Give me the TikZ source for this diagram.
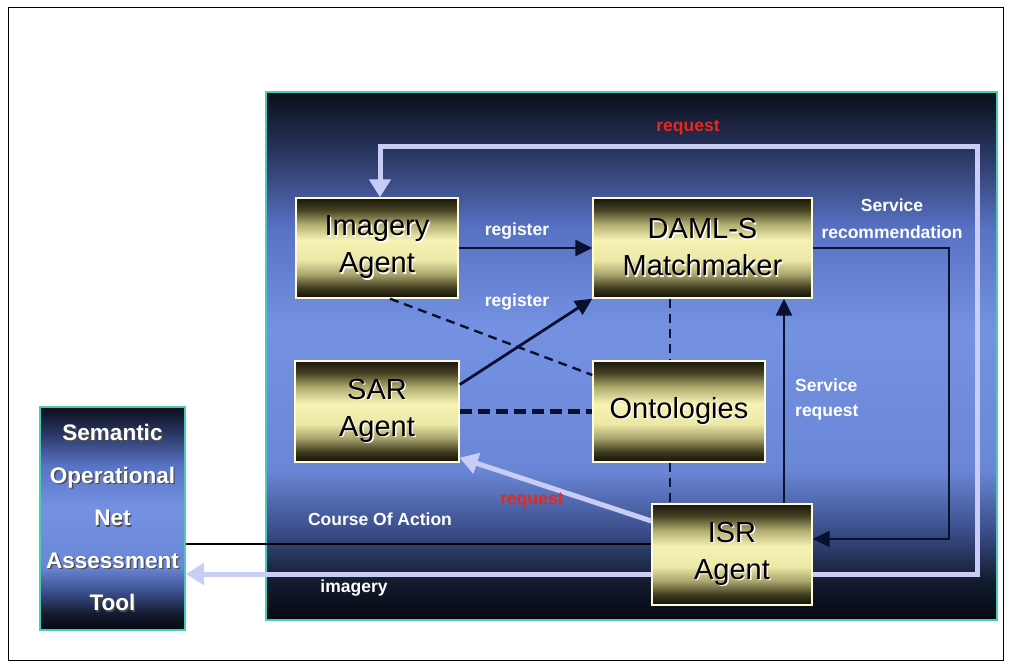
\documentclass[tikz,border=0pt]{standalone}
\usepackage{fontspec}
\setmainfont{Liberation Sans}
\usetikzlibrary{arrows.meta}

\definecolor{lav}{HTML}{C9CCF4}
\definecolor{reqred}{HTML}{E8281A}
\definecolor{navy}{HTML}{0A1030}
\definecolor{teal}{HTML}{48CCB4}

% blue panel: dark at top and bottom, bright periwinkle in between
\pgfdeclareverticalshading{panelshade}{100bp}{%
  color(0bp)=({rgb,255:red,5;green,8;blue,15}); color(25bp)=({rgb,255:red,5;green,8;blue,15});
  color(28.8bp)=({rgb,255:red,20;green,28;blue,48});
  color(33.5bp)=({rgb,255:red,58;green,78;blue,138});
  color(39.2bp)=({rgb,255:red,106;green,134;blue,214});
  color(52.5bp)=({rgb,255:red,117;green,146;blue,226});
  color(62bp)=({rgb,255:red,88;green,114;blue,196});
  color(69.5bp)=({rgb,255:red,40;green,52;blue,94});
  color(75bp)=({rgb,255:red,10;green,14;blue,26});
  color(100bp)=({rgb,255:red,10;green,14;blue,26})}

% golden agent boxes: dark rims, pale yellow band
\pgfdeclareverticalshading{goldshade}{100bp}{%
  color(0bp)=({rgb,255:red,18;green,16;blue,6}); color(25bp)=({rgb,255:red,18;green,16;blue,6});
  color(30bp)=({rgb,255:red,62;green,58;blue,30});
  color(37bp)=({rgb,255:red,170;green,166;blue,110});
  color(44bp)=({rgb,255:red,236;green,232;blue,166});
  color(54bp)=({rgb,255:red,246;green,242;blue,180});
  color(62bp)=({rgb,255:red,176;green,172;blue,112});
  color(69bp)=({rgb,255:red,70;green,66;blue,34});
  color(75bp)=({rgb,255:red,26;green,22;blue,10});
  color(100bp)=({rgb,255:red,26;green,22;blue,10})}

\newcommand\shtext[2]{\makebox[0pt][l]{\kern1.3pt\raisebox{-1.3pt}{\textcolor{#1}{#2}}}#2}

\tikzset{
  agentbox/.style={draw=white!85!yellow, line width=1.4pt, shading=goldshade,
    align=center, inner sep=0pt, font=\fontsize{29}{37}\selectfont, text=black},
  panelbox/.style={draw=teal, line width=1.8pt, shading=panelshade},
  lbl/.style={text=white, font=\bfseries\fontsize{17.5}{26}\selectfont, inner sep=0pt},
  redlbl/.style={text=reqred, font=\bfseries\fontsize{17.5}{22}\selectfont, inner sep=0pt},
  blkarrow/.style={draw=navy, line width=2.8pt, -{Triangle[length=17pt,width=16pt]}},
  lavlink/.style={draw=lav, line width=5pt},
  lavarrow/.style={draw=lav, line width=5pt, -{Triangle[length=18pt,width=21pt]}},
  dashlink/.style={draw=navy, line width=2.4pt, dash pattern=on 9pt off 6pt},
  thickdash/.style={draw=navy, line width=4.5pt, dash pattern=on 12pt off 6pt},
}

\begin{document}
\begin{tikzpicture}[x=1pt,y=-1pt]
\useasboundingbox (0,0) rectangle (1010,666);
\fill[white] (0,0) rectangle (1010,666);
\draw[black, line width=1pt] (8,8) rectangle (1003,660);

% panels
\path[panelbox] (266,92) rectangle (997,620);
\node[panelbox, minimum width=145pt, minimum height=223pt, inner sep=0pt,
      align=center, text=white, font=\bfseries\fontsize{22.5}{42.5}\selectfont] (tool) at (112.5,518.5)
  {\shtext{black!70}{Semantic}\\\shtext{black!70}{Operational}\\\shtext{black!70}{Net}\\\shtext{black!70}{Assessment}\\\shtext{black!70}{Tool}};

% agent boxes
\node[agentbox, minimum width=162pt, minimum height=100pt] (img) at (377,248)
  {\shtext{white!75}{Imagery}\\\shtext{white!75}{Agent}};
\node[agentbox, minimum width=219pt, minimum height=100pt] (dam) at (702.5,248)
  {\shtext{white!75}{DAML-S}\\\shtext{white!75}{Matchmaker}};
\node[agentbox, minimum width=164pt, minimum height=101pt] (sar) at (377,411.5)
  {\shtext{white!75}{SAR}\\\shtext{white!75}{Agent}};
\node[agentbox, minimum width=172pt, minimum height=101pt] (ont) at (679,411.5)
  {\shtext{white!75}{Ontologies}};
\node[agentbox, minimum width=160pt, minimum height=101pt] (isr) at (732,554.5)
  {\shtext{white!75}{ISR}\\\shtext{white!75}{Agent}};

% helper coordinates for routed connectors
\coordinate (dx) at (670,0);
\coordinate (sx) at (784,0);
\coordinate (rc) at (949,539);
\coordinate (lp1) at (977,574);
\coordinate (lp2) at (977,147);
\coordinate (lp3) at (380,147);
\coordinate (coa) at (0,544);

% request loop from the ISR agent round to the imagery agent
\draw[lavarrow] (isr.east |- lp1) -- (lp1) -- (lp2) -- (lp3) -- (lp3 |- img.north);
% imagery delivered to the assessment tool
\draw[lavarrow] (isr.west |- lp1) -- (tool.east |- lp1);
% request to the SAR agent
\draw[lavarrow] ([yshift=33.5pt]isr.west) -- ([yshift=5pt]sar.south east);

% dashed ontology links
\draw[dashlink] ([xshift=13pt]img.south) -- ([yshift=36.5pt]ont.west);
\draw[thickdash] (sar.east) -- (ont.west);
\draw[dashlink] (dam.south -| dx) -- (ont.north -| dx);
\draw[dashlink] (ont.south -| dx) -- (isr.north -| dx);

% registration and service arrows
\draw[blkarrow] (img.east) -- (dam.west);
\draw[blkarrow] (sar.18) -- (dam.south west);
\draw[blkarrow] (isr.north -| sx) -- (dam.south -| sx);
\draw[blkarrow] (dam.east) -| (rc) -- (isr.east |- rc);

% course of action
\draw[black, line width=1.6pt] (tool.east |- coa) -- (isr.west |- coa);

% labels
\node[lbl] (l1) at (517,231) {register};
\node[lbl] (l2) at (517,302) {register};
\node[redlbl] (l3) at (688,128) {request};
\node[lbl, align=center, font=\bfseries\fontsize{17.5}{27}\selectfont] (l4) at (892,219) {Service\\recommendation};
\node[lbl, align=left, font=\bfseries\fontsize{17.5}{25}\selectfont, anchor=west] (l5) at (795,399) {Service\\request};
\node[redlbl] (l6) at (532,501) {request};
\node[lbl] (l7) at (380,519) {Course Of Action};
\node[lbl] (l8) at (354,588) {imagery};
\end{tikzpicture}
\end{document}
